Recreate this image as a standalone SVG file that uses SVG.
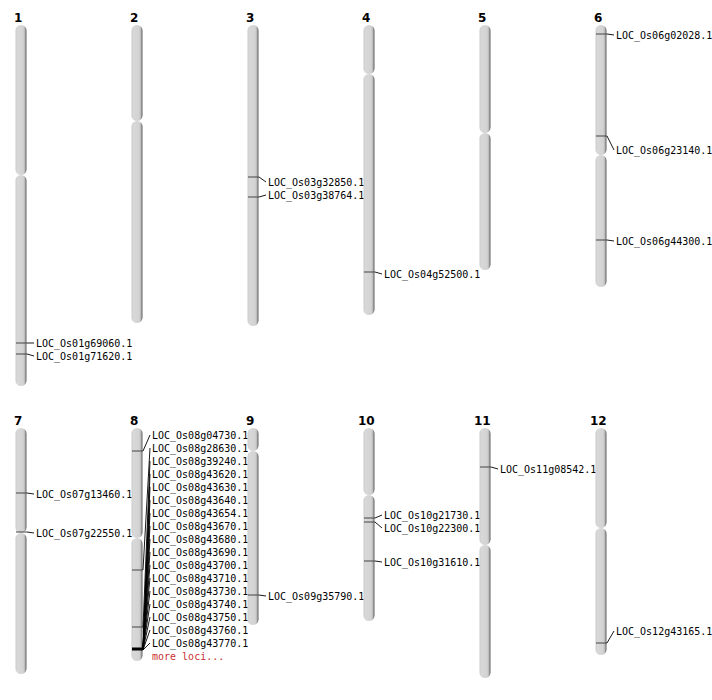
<svg xmlns="http://www.w3.org/2000/svg" width="712" height="700" viewBox="0 0 712 700">
<defs>
<linearGradient id="cg" x1="0" y1="0" x2="1" y2="0">
<stop offset="0" stop-color="#c9c9c9"/>
<stop offset="0.15" stop-color="#d8d8d8"/>
<stop offset="0.7" stop-color="#d3d3d3"/>
<stop offset="0.82" stop-color="#bdbdbd"/>
<stop offset="1" stop-color="#5e5e5e"/>
</linearGradient>
</defs>
<style>
.arm{fill:url(#cg);}
.num{font-family:"DejaVu Sans",sans-serif;font-weight:bold;font-size:12px;fill:#000;}
.lab{font-family:"DejaVu Sans Mono",monospace;font-size:10px;fill:#000;}
.more{font-family:"DejaVu Sans Mono",monospace;font-size:10px;fill:#c83232;}
.mk{stroke:#444;stroke-width:1;fill:none;}
.cn{stroke:#000;stroke-width:0.9;fill:none;}
</style>
<rect width="712" height="700" fill="#fff"/>

<g id="chr1">
<text class="num" x="14" y="22">1</text>
<rect class="arm" x="15.5" y="25" width="11" height="150" rx="5.5"/>
<rect class="arm" x="15.5" y="175" width="11" height="211" rx="5.5"/>
<text class="lab" x="36" y="347">LOC_Os01g69060.1</text>
<text class="lab" x="36" y="360">LOC_Os01g71620.1</text>
</g>
<g id="chr2">
<text class="num" x="130" y="22">2</text>
<rect class="arm" x="131.5" y="25" width="11" height="96" rx="5.5"/>
<rect class="arm" x="131.5" y="121" width="11" height="202" rx="5.5"/>
</g>
<g id="chr3">
<text class="num" x="246" y="22">3</text>
<rect class="arm" x="247.5" y="25" width="11" height="301" rx="5.5"/>
<text class="lab" x="268" y="186">LOC_Os03g32850.1</text>
<text class="lab" x="268" y="199">LOC_Os03g38764.1</text>
</g>
<g id="chr4">
<text class="num" x="362" y="22">4</text>
<rect class="arm" x="363.5" y="25" width="11" height="49" rx="5.5"/>
<rect class="arm" x="363.5" y="74" width="11" height="241" rx="5.5"/>
<text class="lab" x="384" y="278">LOC_Os04g52500.1</text>
</g>
<g id="chr5">
<text class="num" x="478" y="22">5</text>
<rect class="arm" x="479.5" y="25" width="11" height="108" rx="5.5"/>
<rect class="arm" x="479.5" y="133" width="11" height="137" rx="5.5"/>
</g>
<g id="chr6">
<text class="num" x="594" y="22">6</text>
<rect class="arm" x="595.5" y="25" width="11" height="130" rx="5.5"/>
<rect class="arm" x="595.5" y="155" width="11" height="132" rx="5.5"/>
<text class="lab" x="616" y="39">LOC_Os06g02028.1</text>
<text class="lab" x="616" y="154">LOC_Os06g23140.1</text>
<text class="lab" x="616" y="245">LOC_Os06g44300.1</text>
</g>

<g id="chr7">
<text class="num" x="14" y="425">7</text>
<rect class="arm" x="15.5" y="428" width="11" height="105" rx="5.5"/>
<rect class="arm" x="15.5" y="533" width="11" height="141" rx="5.5"/>
<text class="lab" x="36" y="498">LOC_Os07g13460.1</text>
<text class="lab" x="36" y="537">LOC_Os07g22550.1</text>
</g>
<g id="chr8">
<text class="num" x="130" y="425">8</text>
<rect class="arm" x="131.5" y="428" width="11" height="110" rx="5.5"/>
<rect class="arm" x="131.5" y="538" width="11" height="123" rx="5.5"/>
<text class="lab" x="152" y="439">LOC_Os08g04730.1</text>
<text class="lab" x="152" y="452">LOC_Os08g28630.1</text>
<text class="lab" x="152" y="465">LOC_Os08g39240.1</text>
<text class="lab" x="152" y="478">LOC_Os08g43620.1</text>
<text class="lab" x="152" y="491">LOC_Os08g43630.1</text>
<text class="lab" x="152" y="504">LOC_Os08g43640.1</text>
<text class="lab" x="152" y="517">LOC_Os08g43654.1</text>
<text class="lab" x="152" y="530">LOC_Os08g43670.1</text>
<text class="lab" x="152" y="543">LOC_Os08g43680.1</text>
<text class="lab" x="152" y="556">LOC_Os08g43690.1</text>
<text class="lab" x="152" y="569">LOC_Os08g43700.1</text>
<text class="lab" x="152" y="582">LOC_Os08g43710.1</text>
<text class="lab" x="152" y="595">LOC_Os08g43730.1</text>
<text class="lab" x="152" y="608">LOC_Os08g43740.1</text>
<text class="lab" x="152" y="621">LOC_Os08g43750.1</text>
<text class="lab" x="152" y="634">LOC_Os08g43760.1</text>
<text class="lab" x="152" y="647">LOC_Os08g43770.1</text>
<text class="more" x="152" y="660">more loci...</text>
</g>
<g id="chr9">
<text class="num" x="246" y="425">9</text>
<rect class="arm" x="247.5" y="428" width="11" height="23" rx="5.5"/>
<rect class="arm" x="247.5" y="451" width="11" height="174" rx="5.5"/>
<text class="lab" x="268" y="600">LOC_Os09g35790.1</text>
</g>
<g id="chr10">
<text class="num" x="358" y="425">10</text>
<rect class="arm" x="363.5" y="428" width="11" height="67" rx="5.5"/>
<rect class="arm" x="363.5" y="495" width="11" height="126" rx="5.5"/>
<text class="lab" x="384" y="519">LOC_Os10g21730.1</text>
<text class="lab" x="384" y="532">LOC_Os10g22300.1</text>
<text class="lab" x="384" y="566">LOC_Os10g31610.1</text>
</g>
<g id="chr11">
<text class="num" x="474" y="425">11</text>
<rect class="arm" x="479.5" y="428" width="11" height="117" rx="5.5"/>
<rect class="arm" x="479.5" y="545" width="11" height="133" rx="5.5"/>
<text class="lab" x="500" y="473">LOC_Os11g08542.1</text>
</g>
<g id="chr12">
<text class="num" x="590" y="425">12</text>
<rect class="arm" x="595.5" y="428" width="11" height="100" rx="5.5"/>
<rect class="arm" x="595.5" y="528" width="11" height="127" rx="5.5"/>
<text class="lab" x="616" y="635">LOC_Os12g43165.1</text>
</g>

<g id="connectors">
<!-- chr1 -->
<path class="mk" d="M16 343H27"/><path class="cn" d="M27 343H34"/>
<path class="mk" d="M16 354H27"/><path class="cn" d="M27 354L34 356"/>
<!-- chr3 -->
<path class="mk" d="M248 177H259"/><path class="cn" d="M259 177L266 182"/>
<path class="mk" d="M248 197H259"/><path class="cn" d="M259 197L266 195"/>
<!-- chr4 -->
<path class="mk" d="M364 272H375"/><path class="cn" d="M375 272L382 274"/>
<!-- chr6 -->
<path class="mk" d="M596 34H607"/><path class="cn" d="M607 34L614 35"/>
<path class="mk" d="M596 136H607"/><path class="cn" d="M607 136L614 150"/>
<path class="mk" d="M596 240H607"/><path class="cn" d="M607 240L614 241"/>
<!-- chr7 -->
<path class="mk" d="M16 493H27"/><path class="cn" d="M27 493L34 494"/>
<path class="mk" d="M16 532H27"/><path class="cn" d="M27 532L34 533"/>
<!-- chr8 -->
<path class="mk" d="M132 451H143"/><path class="cn" d="M143 451L150 435"/>
<path class="mk" d="M132 570H143"/><path class="cn" d="M143 570L150 448"/>
<path class="mk" d="M132 627H143"/><path class="cn" d="M143 627L150 461"/>
<path class="mk" d="M132 649H143" style="stroke:#000;stroke-width:3"/>
<path class="cn" d="M143 648L150 474"/>
<path class="cn" d="M143 648L150 487"/>
<path class="cn" d="M143 648L150 500"/>
<path class="cn" d="M143 648.5L150 513"/>
<path class="cn" d="M143 648.5L150 526"/>
<path class="cn" d="M143 648.5L150 539"/>
<path class="cn" d="M143 649L150 552"/>
<path class="cn" d="M143 649L150 565"/>
<path class="cn" d="M143 649L150 578"/>
<path class="cn" d="M143 649.5L150 591"/>
<path class="cn" d="M143 649.5L150 604"/>
<path class="cn" d="M143 650L150 617"/>
<path class="cn" d="M143 650L150 630"/>
<path class="cn" d="M143 650L150 643"/>
<!-- chr9 -->
<path class="mk" d="M248 595H259"/><path class="cn" d="M259 595L266 596"/>
<!-- chr10 -->
<path class="mk" d="M364 518H375"/><path class="cn" d="M375 518L382 515"/>
<path class="mk" d="M364 522H375"/><path class="cn" d="M375 522L382 528"/>
<path class="mk" d="M364 561H375"/><path class="cn" d="M375 561L382 562"/>
<!-- chr11 -->
<path class="mk" d="M480 467H491"/><path class="cn" d="M491 467L498 469"/>
<!-- chr12 -->
<path class="mk" d="M596 643H607"/><path class="cn" d="M607 643L614 631"/>
</g>
</svg>
